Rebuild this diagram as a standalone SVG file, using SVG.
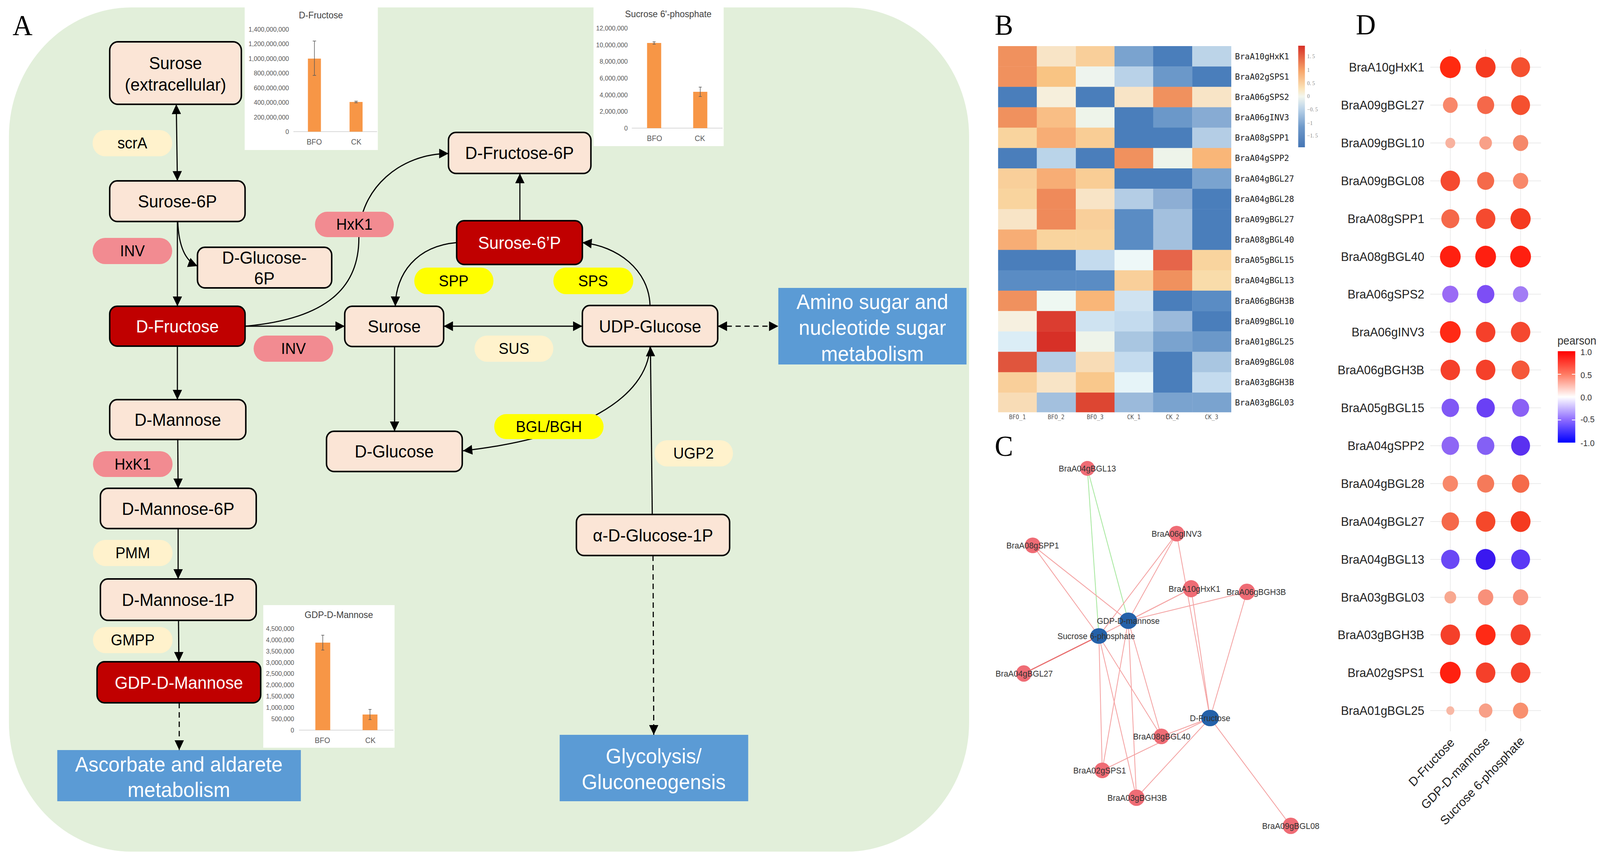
<svg xmlns="http://www.w3.org/2000/svg" width="4310" height="2204" viewBox="0 0 4310 2204">
<defs>
<marker id="arr" viewBox="0 0 10 10" refX="10" refY="5" markerUnits="userSpaceOnUse" markerWidth="27" markerHeight="25" orient="auto-start-reverse"><path d="M0,0 L10,5 L0,10 z" fill="#000"/></marker>
<linearGradient id="hmg" x1="0" y1="0" x2="0" y2="1">
<stop offset="0" stop-color="#d73027"/><stop offset="0.25" stop-color="#f7a66b"/><stop offset="0.42" stop-color="#fbe3b8"/><stop offset="0.5" stop-color="#f2f6ee"/><stop offset="0.62" stop-color="#bcd4e9"/><stop offset="0.8" stop-color="#6e99ca"/><stop offset="1" stop-color="#4575b4"/>
</linearGradient>
<linearGradient id="pg" x1="0" y1="0" x2="0" y2="1">
<stop offset="0" stop-color="#ff0000"/><stop offset="0.25" stop-color="#ff7a62"/><stop offset="0.5" stop-color="#ffffff"/><stop offset="0.75" stop-color="#8e6cff"/><stop offset="1" stop-color="#0000ff"/>
</linearGradient>
<style>
.txt{font-family:"Liberation Sans",Arial,sans-serif}
.node rect{fill:#fbe5d6;stroke:#000;stroke-width:4}
.node.red rect{fill:#c00000}
.nt{font-family:"Liberation Sans",Arial,sans-serif;font-size:45px;text-anchor:middle;fill:#000}
.red .nt{fill:#fff}
.blue rect{fill:#5b9bd5;stroke:none}
.bt{font-family:"Liberation Sans",Arial,sans-serif;font-size:54px;text-anchor:middle;fill:#fff}
.pill text{font-family:"Liberation Sans",Arial,sans-serif;font-size:40px;text-anchor:middle;fill:#000}
.pink rect{fill:#f28b91}
.lite rect{fill:#fff2cc}
.yel rect{fill:#ffff00}
.conn path,.conn line{fill:none;stroke:#000;stroke-width:3}
.dash{stroke-dasharray:14 10}
.lbl{font-family:"Liberation Serif","Times New Roman",serif;font-size:74px;fill:#000}
.ct{font-family:"Liberation Sans",Arial,sans-serif;font-size:24px;text-anchor:middle;fill:#404040}
.tk{font-family:"Liberation Sans",Arial,sans-serif;font-size:17px;text-anchor:end;fill:#595959}
.xl{font-family:"Liberation Sans",Arial,sans-serif;font-size:20px;text-anchor:middle;fill:#595959}
.bar{fill:#f79646}
.ax{stroke:#d9d9d9;stroke-width:2}
.eb{stroke:#595959;stroke-width:1.5;fill:none}
.hl{font-family:"DejaVu Sans Mono",monospace;font-size:22px;fill:#222}
.hc{font-family:"DejaVu Sans Mono",monospace;font-size:15px;fill:#555;text-anchor:middle}
.hk{font-family:"Liberation Serif","Times New Roman",serif;font-size:14px;fill:#888}
.ne{stroke:#f4a3a3;stroke-width:2.2}
.ng{stroke:#a8e8a0;stroke-width:2.2}
.rn{fill:#ef6c75}
.bn{fill:#2461a9}
.nl{font-family:"Liberation Sans",Arial,sans-serif;font-size:22px;fill:#333;text-anchor:middle}
.gl{stroke:#ebebeb;stroke-width:2}
.dl{font-family:"Liberation Sans",Arial,sans-serif;font-size:32px;fill:#222;text-anchor:end}
.pl{font-family:"Liberation Sans",Arial,sans-serif;font-size:22px;fill:#333}
</style>
</defs>
<rect width="4310" height="2204" fill="#fff"/>
<g id="figure" transform="scale(0.952,1)">
<rect x="24" y="19" width="2582" height="2161" rx="330" fill="#e2efda"/>
<text class="lbl" x="34" y="90">A</text>
<text class="lbl" x="2675" y="89">B</text>
<text class="lbl" x="2675" y="1167">C</text>
<text class="lbl" x="3646" y="88">D</text>

<!-- charts -->
<g id="chart-fructose">
<rect x="658" y="19" width="358" height="365" fill="#fff"/>
<text class="ct" x="863" y="47">D-Fructose</text>
<text class="tk" x="777" y="343">0</text>
<text class="tk" x="777" y="306">200,000,000</text>
<text class="tk" x="777" y="268">400,000,000</text>
<text class="tk" x="777" y="231">600,000,000</text>
<text class="tk" x="777" y="193">800,000,000</text>
<text class="tk" x="777" y="156">1,000,000,000</text>
<text class="tk" x="777" y="118">1,200,000,000</text>
<text class="tk" x="777" y="81">1,400,000,000</text>
<line class="ax" x1="789" y1="337" x2="1014" y2="337"/>
<rect class="bar" x="828" y="150" width="35" height="187"/>
<rect class="bar" x="940" y="261" width="35" height="76"/>
<path class="eb" d="M845.5,105 V193 M841,105 H850 M841,193 H850 M957.5,259 V263 M953,259 H962 M953,263 H962"/>
<text class="xl" x="845" y="370">BFO</text>
<text class="xl" x="958" y="370">CK</text>
</g>
<g id="chart-sucrose6p">
<rect x="1596" y="19" width="350" height="355" fill="#fff"/>
<text class="ct" x="1797" y="44">Sucrose 6'-phosphate</text>
<text class="tk" x="1688" y="334">0</text>
<text class="tk" x="1688" y="291">2,000,000</text>
<text class="tk" x="1688" y="249">4,000,000</text>
<text class="tk" x="1688" y="206">6,000,000</text>
<text class="tk" x="1688" y="163">8,000,000</text>
<text class="tk" x="1688" y="121">10,000,000</text>
<text class="tk" x="1688" y="78">12,000,000</text>
<line class="ax" x1="1699" y1="328" x2="1943" y2="328"/>
<rect class="bar" x="1740" y="110" width="38" height="218"/>
<rect class="bar" x="1864" y="235" width="38" height="93"/>
<path class="eb" d="M1759,107 V113 M1755,107 H1763 M1755,113 H1763 M1883,223 V247 M1879,223 H1887 M1879,247 H1887"/>
<text class="xl" x="1760" y="361">BFO</text>
<text class="xl" x="1882" y="361">CK</text>
</g>
<g id="chart-gdp">
<rect x="708" y="1549" width="353" height="365" fill="#fff"/>
<text class="ct" x="911" y="1582">GDP-D-Mannose</text>
<text class="tk" x="791" y="1875">0</text>
<text class="tk" x="791" y="1846">500,000</text>
<text class="tk" x="791" y="1817">1,000,000</text>
<text class="tk" x="791" y="1788">1,500,000</text>
<text class="tk" x="791" y="1759">2,000,000</text>
<text class="tk" x="791" y="1730">2,500,000</text>
<text class="tk" x="791" y="1702">3,000,000</text>
<text class="tk" x="791" y="1673">3,500,000</text>
<text class="tk" x="791" y="1644">4,000,000</text>
<text class="tk" x="791" y="1615">4,500,000</text>
<line class="ax" x1="804" y1="1869" x2="1058" y2="1869"/>
<rect class="bar" x="848" y="1645" width="40" height="224"/>
<rect class="bar" x="975" y="1829" width="40" height="40"/>
<path class="eb" d="M868,1626 V1664 M864,1626 H872 M864,1664 H872 M995,1816 V1842 M991,1816 H999 M991,1842 H999"/>
<text class="xl" x="867" y="1902">BFO</text>
<text class="xl" x="996" y="1902">CK</text>
</g>

<!-- connectors -->
<g id="connectors" class="conn">
<line x1="474" y1="267" x2="477" y2="463" marker-start="url(#arr)" marker-end="url(#arr)"/>
<path d="M478,567 Q482,662 531,681" marker-end="url(#arr)"/>
<line x1="477" y1="567" x2="477" y2="784" marker-end="url(#arr)"/>
<path d="M659,835 C900,815 965,720 965,610 C965,480 1080,393 1206,393" marker-end="url(#arr)"/>
<line x1="659" y1="835" x2="927" y2="835" marker-end="url(#arr)"/>
<line x1="477" y1="886" x2="477" y2="1023" marker-end="url(#arr)"/>
<line x1="478" y1="1125" x2="479" y2="1250" marker-end="url(#arr)"/>
<line x1="479" y1="1353" x2="479" y2="1482" marker-end="url(#arr)"/>
<line x1="480" y1="1588" x2="481" y2="1694" marker-end="url(#arr)"/>
<line class="dash" x1="482" y1="1799" x2="482" y2="1920" marker-end="url(#arr)"/>
<line x1="1398" y1="565" x2="1398" y2="444" marker-end="url(#arr)"/>
<path d="M1228,621 C1120,630 1064,700 1063,784" marker-end="url(#arr)"/>
<path d="M1748,782 C1745,690 1660,630 1566,621" marker-end="url(#arr)"/>
<line x1="1193" y1="835" x2="1566" y2="835" marker-start="url(#arr)" marker-end="url(#arr)"/>
<line class="dash" x1="1930" y1="835" x2="2093" y2="835" marker-start="url(#arr)" marker-end="url(#arr)"/>
<line x1="1061" y1="887" x2="1061" y2="1104" marker-end="url(#arr)"/>
<path d="M1748,887 C1740,1020 1560,1120 1245,1154" marker-end="url(#arr)"/>
<line x1="1754" y1="1317" x2="1749" y2="887" marker-end="url(#arr)"/>
<line class="dash" x1="1756" y1="1422" x2="1758" y2="1881" marker-end="url(#arr)"/>
</g>

<!-- pathway nodes -->
<g id="surose-extracellular" class="node"><rect x="295" y="107" width="354" height="160" rx="22"/><text class="nt" x="472" y="177">Surose</text><text class="nt" x="472" y="232">(extracellular)</text></g>
<g id="surose-6p" class="node"><rect x="295" y="463" width="364" height="104" rx="20"/><text class="nt" x="477" y="531">Surose-6P</text></g>
<g id="d-glucose-6p" class="node"><rect x="531" y="633" width="361" height="104" rx="20"/><text class="nt" x="711" y="675">D-Glucose-</text><text class="nt" x="711" y="728">6P</text></g>
<g id="d-fructose" class="node red"><rect x="295" y="784" width="364" height="102" rx="20"/><text class="nt" x="477" y="851">D-Fructose</text></g>
<g id="surose" class="node"><rect x="927" y="784" width="266" height="103" rx="20"/><text class="nt" x="1060" y="851">Surose</text></g>
<g id="d-fructose-6p" class="node"><rect x="1206" y="339" width="383" height="105" rx="20"/><text class="nt" x="1397" y="407">D-Fructose-6P</text></g>
<g id="surose-6pp" class="node red"><rect x="1228" y="565" width="338" height="112" rx="20"/><text class="nt" x="1397" y="637">Surose-6’P</text></g>
<g id="udp-glucose" class="node"><rect x="1566" y="782" width="364" height="105" rx="20"/><text class="nt" x="1748" y="851">UDP-Glucose</text></g>
<g id="d-glucose" class="node"><rect x="878" y="1104" width="365" height="103" rx="20"/><text class="nt" x="1060" y="1171">D-Glucose</text></g>
<g id="alpha-d-glucose-1p" class="node"><rect x="1550" y="1317" width="412" height="105" rx="20"/><text class="nt" x="1756" y="1386">α-D-Glucose-1P</text></g>
<g id="d-mannose" class="node"><rect x="295" y="1023" width="366" height="102" rx="20"/><text class="nt" x="478" y="1090">D-Mannose</text></g>
<g id="d-mannose-6p" class="node"><rect x="270" y="1250" width="419" height="103" rx="20"/><text class="nt" x="479" y="1318">D-Mannose-6P</text></g>
<g id="d-mannose-1p" class="node"><rect x="270" y="1482" width="419" height="106" rx="20"/><text class="nt" x="479" y="1551">D-Mannose-1P</text></g>
<g id="gdp-d-mannose" class="node red"><rect x="261" y="1694" width="440" height="105" rx="20"/><text class="nt" x="481" y="1763">GDP-D-Mannose</text></g>
<g id="amino-sugar" class="blue"><rect x="2093" y="737" width="506" height="196"/><text class="bt" x="2346" y="791">Amino sugar and</text><text class="bt" x="2346" y="857">nucleotide sugar</text><text class="bt" x="2346" y="924">metabolism</text></g>
<g id="ascorbate" class="blue"><rect x="154" y="1920" width="655" height="131"/><text class="bt" x="481" y="1975">Ascorbate and aldarete</text><text class="bt" x="481" y="2040">metabolism</text></g>
<g id="glycolysis" class="blue"><rect x="1505" y="1881" width="507" height="170"/><text class="bt" x="1758" y="1954">Glycolysis/</text><text class="bt" x="1758" y="2020">Gluconeogensis</text></g>

<!-- enzyme pills -->
<g id="e-scrA" class="pill lite"><rect x="249" y="333" width="214" height="67" rx="33.5"/><text x="356" y="380">scrA</text></g>
<g id="e-inv1" class="pill pink"><rect x="249" y="609" width="214" height="67" rx="33.5"/><text x="356" y="656">INV</text></g>
<g id="e-hxk1a" class="pill pink"><rect x="847" y="542" width="212" height="65" rx="32.5"/><text x="953" y="588">HxK1</text></g>
<g id="e-inv2" class="pill pink"><rect x="682" y="859" width="214" height="67" rx="33.5"/><text x="789" y="906">INV</text></g>
<g id="e-spp" class="pill yel"><rect x="1114" y="685" width="213" height="68" rx="34"/><text x="1220" y="733">SPP</text></g>
<g id="e-sps" class="pill yel"><rect x="1488" y="685" width="215" height="68" rx="34"/><text x="1595" y="733">SPS</text></g>
<g id="e-sus" class="pill lite"><rect x="1276" y="859" width="212" height="67" rx="33.5"/><text x="1382" y="906">SUS</text></g>
<g id="e-bgl" class="pill yel"><rect x="1329" y="1060" width="294" height="64" rx="32"/><text x="1476" y="1106">BGL/BGH</text></g>
<g id="e-ugp2" class="pill lite"><rect x="1760" y="1127" width="211" height="67" rx="33.5"/><text x="1865" y="1174">UGP2</text></g>
<g id="e-hxk1b" class="pill pink"><rect x="250" y="1155" width="214" height="66" rx="33"/><text x="357" y="1202">HxK1</text></g>
<g id="e-pmm" class="pill lite"><rect x="250" y="1382" width="214" height="67" rx="33.5"/><text x="357" y="1429">PMM</text></g>
<g id="e-gmpp" class="pill lite"><rect x="250" y="1605" width="214" height="67" rx="33.5"/><text x="357" y="1652">GMPP</text></g>

<!-- heatmap B -->
<g id="heatmap">
<g transform="translate(0,118)"><rect x="2684" width="105" height="52.6" fill="#f0915e"/><rect x="2788" width="105" height="52.6" fill="#f8e4c6"/><rect x="2893" width="105" height="52.6" fill="#f9cf9a"/><rect x="2997" width="105" height="52.6" fill="#7aa3cf"/><rect x="3101" width="105" height="52.6" fill="#4a7ebb"/><rect x="3206" width="105" height="52.6" fill="#bcd4e8"/></g>
<g transform="translate(0,170.2)"><rect x="2684" width="105" height="52.6" fill="#f0915e"/><rect x="2788" width="105" height="52.6" fill="#f9c483"/><rect x="2893" width="105" height="52.6" fill="#eef4ee"/><rect x="2997" width="105" height="52.6" fill="#b9d2e8"/><rect x="3101" width="105" height="52.6" fill="#6b98c9"/><rect x="3206" width="105" height="52.6" fill="#4a7ebb"/></g>
<g transform="translate(0,222.3)"><rect x="2684" width="105" height="52.6" fill="#4a7ebb"/><rect x="2788" width="105" height="52.6" fill="#f6efdc"/><rect x="2893" width="105" height="52.6" fill="#4a7ebb"/><rect x="2997" width="105" height="52.6" fill="#f8e4c6"/><rect x="3101" width="105" height="52.6" fill="#f0915e"/><rect x="3206" width="105" height="52.6" fill="#f8e4c6"/></g>
<g transform="translate(0,274.5)"><rect x="2684" width="105" height="52.6" fill="#f0915e"/><rect x="2788" width="105" height="52.6" fill="#f9be85"/><rect x="2893" width="105" height="52.6" fill="#eef4ea"/><rect x="2997" width="105" height="52.6" fill="#4a7ebb"/><rect x="3101" width="105" height="52.6" fill="#6b98c9"/><rect x="3206" width="105" height="52.6" fill="#87abd3"/></g>
<g transform="translate(0,326.7)"><rect x="2684" width="105" height="52.6" fill="#f9d49e"/><rect x="2788" width="105" height="52.6" fill="#f7ad75"/><rect x="2893" width="105" height="52.6" fill="#f9cd95"/><rect x="2997" width="105" height="52.6" fill="#4a7ebb"/><rect x="3101" width="105" height="52.6" fill="#4a7ebb"/><rect x="3206" width="105" height="52.6" fill="#b4cde5"/></g>
<g transform="translate(0,378.8)"><rect x="2684" width="105" height="52.6" fill="#4a7ebb"/><rect x="2788" width="105" height="52.6" fill="#bad4e9"/><rect x="2893" width="105" height="52.6" fill="#4a7ebb"/><rect x="2997" width="105" height="52.6" fill="#f0915e"/><rect x="3101" width="105" height="52.6" fill="#eef4ea"/><rect x="3206" width="105" height="52.6" fill="#f9b678"/></g>
<g transform="translate(0,431)"><rect x="2684" width="105" height="52.6" fill="#f9cf9a"/><rect x="2788" width="105" height="52.6" fill="#f7ad75"/><rect x="2893" width="105" height="52.6" fill="#f9cd95"/><rect x="2997" width="105" height="52.6" fill="#4a7ebb"/><rect x="3101" width="105" height="52.6" fill="#4a7ebb"/><rect x="3206" width="105" height="52.6" fill="#7aa3cf"/></g>
<g transform="translate(0,483.2)"><rect x="2684" width="105" height="52.6" fill="#f9d49e"/><rect x="2788" width="105" height="52.6" fill="#ef8a5a"/><rect x="2893" width="105" height="52.6" fill="#f8e4c6"/><rect x="2997" width="105" height="52.6" fill="#b4cde5"/><rect x="3101" width="105" height="52.6" fill="#8daed4"/><rect x="3206" width="105" height="52.6" fill="#4a7ebb"/></g>
<g transform="translate(0,535.4)"><rect x="2684" width="105" height="52.6" fill="#f8e4c6"/><rect x="2788" width="105" height="52.6" fill="#ef8a5a"/><rect x="2893" width="105" height="52.6" fill="#f9cf9a"/><rect x="2997" width="105" height="52.6" fill="#5a8cc4"/><rect x="3101" width="105" height="52.6" fill="#a3c0de"/><rect x="3206" width="105" height="52.6" fill="#4a7ebb"/></g>
<g transform="translate(0,587.5)"><rect x="2684" width="105" height="52.6" fill="#f7ad75"/><rect x="2788" width="105" height="52.6" fill="#f9d49e"/><rect x="2893" width="105" height="52.6" fill="#f9d49e"/><rect x="2997" width="105" height="52.6" fill="#5a8cc4"/><rect x="3101" width="105" height="52.6" fill="#a3c0de"/><rect x="3206" width="105" height="52.6" fill="#4a7ebb"/></g>
<g transform="translate(0,639.7)"><rect x="2684" width="105" height="52.6" fill="#4a7ebb"/><rect x="2788" width="105" height="52.6" fill="#4a7ebb"/><rect x="2893" width="105" height="52.6" fill="#c4dbee"/><rect x="2997" width="105" height="52.6" fill="#eef8f8"/><rect x="3101" width="105" height="52.6" fill="#e6654a"/><rect x="3206" width="105" height="52.6" fill="#f9d49e"/></g>
<g transform="translate(0,691.9)"><rect x="2684" width="105" height="52.6" fill="#5a8cc4"/><rect x="2788" width="105" height="52.6" fill="#5a8cc4"/><rect x="2893" width="105" height="52.6" fill="#5a8cc4"/><rect x="2997" width="105" height="52.6" fill="#f9cf9a"/><rect x="3101" width="105" height="52.6" fill="#f0915e"/><rect x="3206" width="105" height="52.6" fill="#f9dcaa"/></g>
<g transform="translate(0,744)"><rect x="2684" width="105" height="52.6" fill="#f0915e"/><rect x="2788" width="105" height="52.6" fill="#eef8f2"/><rect x="2893" width="105" height="52.6" fill="#f9b678"/><rect x="2997" width="105" height="52.6" fill="#d0e3f1"/><rect x="3101" width="105" height="52.6" fill="#4a7ebb"/><rect x="3206" width="105" height="52.6" fill="#5a8cc4"/></g>
<g transform="translate(0,796.2)"><rect x="2684" width="105" height="52.6" fill="#f6f0e0"/><rect x="2788" width="105" height="52.6" fill="#db3d30"/><rect x="2893" width="105" height="52.6" fill="#cfe3f1"/><rect x="2997" width="105" height="52.6" fill="#c4dbee"/><rect x="3101" width="105" height="52.6" fill="#9bbadb"/><rect x="3206" width="105" height="52.6" fill="#4a7ebb"/></g>
<g transform="translate(0,848.4)"><rect x="2684" width="105" height="52.6" fill="#dbedf6"/><rect x="2788" width="105" height="52.6" fill="#d73027"/><rect x="2893" width="105" height="52.6" fill="#eef4ea"/><rect x="2997" width="105" height="52.6" fill="#a9c6e1"/><rect x="3101" width="105" height="52.6" fill="#7aa3cf"/><rect x="3206" width="105" height="52.6" fill="#6b98c9"/></g>
<g transform="translate(0,900.5)"><rect x="2684" width="105" height="52.6" fill="#e0553d"/><rect x="2788" width="105" height="52.6" fill="#b4cde5"/><rect x="2893" width="105" height="52.6" fill="#f8dcb6"/><rect x="2997" width="105" height="52.6" fill="#c4dbee"/><rect x="3101" width="105" height="52.6" fill="#4a7ebb"/><rect x="3206" width="105" height="52.6" fill="#a9c6e1"/></g>
<g transform="translate(0,952.7)"><rect x="2684" width="105" height="52.6" fill="#f9cf9a"/><rect x="2788" width="105" height="52.6" fill="#f8e4c6"/><rect x="2893" width="105" height="52.6" fill="#f9c88c"/><rect x="2997" width="105" height="52.6" fill="#e6f4f8"/><rect x="3101" width="105" height="52.6" fill="#4a7ebb"/><rect x="3206" width="105" height="52.6" fill="#c4dbee"/></g>
<g transform="translate(0,1004.9)"><rect x="2684" width="105" height="50.5" fill="#f8dcb6"/><rect x="2788" width="105" height="50.5" fill="#a3c0de"/><rect x="2893" width="105" height="50.5" fill="#dd4632"/><rect x="2997" width="105" height="50.5" fill="#9bbadb"/><rect x="3101" width="105" height="50.5" fill="#7aa3cf"/><rect x="3206" width="105" height="50.5" fill="#7aa3cf"/></g>
<text class="hl" x="3321" y="152">BraA10gHxK1</text>
<text class="hl" x="3321" y="204">BraA02gSPS1</text>
<text class="hl" x="3321" y="256">BraA06gSPS2</text>
<text class="hl" x="3321" y="308">BraA06gINV3</text>
<text class="hl" x="3321" y="360">BraA08gSPP1</text>
<text class="hl" x="3321" y="412">BraA04gSPP2</text>
<text class="hl" x="3321" y="465">BraA04gBGL27</text>
<text class="hl" x="3321" y="517">BraA04gBGL28</text>
<text class="hl" x="3321" y="569">BraA09gBGL27</text>
<text class="hl" x="3321" y="621">BraA08gBGL40</text>
<text class="hl" x="3321" y="673">BraA05gBGL15</text>
<text class="hl" x="3321" y="725">BraA04gBGL13</text>
<text class="hl" x="3321" y="778">BraA06gBGH3B</text>
<text class="hl" x="3321" y="830">BraA09gBGL10</text>
<text class="hl" x="3321" y="882">BraA01gBGL25</text>
<text class="hl" x="3321" y="934">BraA09gBGL08</text>
<text class="hl" x="3321" y="986">BraA03gBGH3B</text>
<text class="hl" x="3321" y="1038">BraA03gBGL03</text>
<text class="hc" x="2736" y="1073">BFO_1</text>
<text class="hc" x="2840" y="1073">BFO_2</text>
<text class="hc" x="2945" y="1073">BFO_3</text>
<text class="hc" x="3049" y="1073">CK_1</text>
<text class="hc" x="3153" y="1073">CK_2</text>
<text class="hc" x="3258" y="1073">CK_3</text>
<rect x="3491" y="117" width="18" height="260" fill="url(#hmg)"/>
<text class="hk" x="3515" y="149">1. 5</text>
<text class="hk" x="3515" y="184">1</text>
<text class="hk" x="3515" y="218">0. 5</text>
<text class="hk" x="3515" y="251">0</text>
<text class="hk" x="3515" y="285">−0. 5</text>
<text class="hk" x="3515" y="320">−1</text>
<text class="hk" x="3515" y="352">−1. 5</text>
</g>

<!-- network C -->
<g id="network-edges">
<line class="ng" x1="2924" y1="1199" x2="2955" y2="1628"/>
<line class="ng" x1="2924" y1="1199" x2="3034" y2="1589"/>
<line class="ne" x1="2777" y1="1396" x2="2955" y2="1628"/>
<line class="ne" x1="2777" y1="1396" x2="3034" y2="1589"/>
<line class="ne" x1="3164" y1="1366" x2="2955" y2="1628"/>
<line class="ne" x1="3164" y1="1366" x2="3034" y2="1589"/>
<line class="ne" x1="3164" y1="1366" x2="3254" y2="1838"/>
<line class="ne" x1="3203" y1="1507" x2="3034" y2="1589"/>
<line class="ne" x1="3203" y1="1507" x2="2955" y2="1628"/>
<line class="ne" x1="3203" y1="1507" x2="3254" y2="1838"/>
<line class="ne" x1="3353" y1="1515" x2="3034" y2="1589"/>
<line class="ne" x1="3353" y1="1515" x2="3254" y2="1838"/>
<line x1="2955" y1="1628" x2="2753" y2="1724" stroke="#e86b6b" stroke-width="3"/>
<line class="ne" x1="2955" y1="1628" x2="2964" y2="1972"/>
<line class="ne" x1="3034" y1="1589" x2="2964" y2="1972"/>
<line class="ne" x1="2955" y1="1628" x2="3056" y2="2042"/>
<line class="ne" x1="3034" y1="1589" x2="3056" y2="2042"/>
<line class="ne" x1="2955" y1="1628" x2="3123" y2="1885"/>
<line class="ne" x1="3034" y1="1589" x2="3123" y2="1885"/>
<line class="ne" x1="3254" y1="1838" x2="3123" y2="1885"/>
<line class="ne" x1="3254" y1="1838" x2="2964" y2="1972"/>
<line class="ne" x1="3254" y1="1838" x2="3056" y2="2042"/>
<line class="ne" x1="3254" y1="1838" x2="3471" y2="2114"/>
</g>
<g id="n-bgl13"><ellipse class="rn" cx="2924" cy="1199" rx="20" ry="19"/><text class="nl" x="2924" y="1207">BraA04gBGL13</text></g>
<g id="n-spp1"><ellipse class="rn" cx="2777" cy="1396" rx="21" ry="20"/><text class="nl" x="2777" y="1404">BraA08gSPP1</text></g>
<g id="n-inv3"><ellipse class="rn" cx="3164" cy="1366" rx="21" ry="20"/><text class="nl" x="3164" y="1374">BraA06gINV3</text></g>
<g id="n-hxk1"><ellipse class="rn" cx="3203" cy="1507" rx="22" ry="22"/><text class="nl" x="3212" y="1515">BraA10gHxK1</text></g>
<g id="n-bgh3b06"><ellipse class="rn" cx="3353" cy="1515" rx="22" ry="21"/><text class="nl" x="3378" y="1523">BraA06gBGH3B</text></g>
<g id="n-gdp"><ellipse class="bn" cx="3034" cy="1589" rx="24" ry="21"/><text class="nl" x="3034" y="1597">GDP-D-mannose</text></g>
<g id="n-s6p"><ellipse class="bn" cx="2955" cy="1628" rx="23" ry="20"/><text class="nl" x="2948" y="1636">Sucrose 6-phosphate</text></g>
<g id="n-bgl27"><ellipse class="rn" cx="2753" cy="1724" rx="21" ry="21"/><text class="nl" x="2754" y="1732">BraA04gBGL27</text></g>
<g id="n-dfru"><ellipse class="bn" cx="3254" cy="1838" rx="24" ry="21"/><text class="nl" x="3254" y="1846">D-Fructose</text></g>
<g id="n-bgl40"><ellipse class="rn" cx="3123" cy="1885" rx="21" ry="20"/><text class="nl" x="3124" y="1893">BraA08gBGL40</text></g>
<g id="n-sps1"><ellipse class="rn" cx="2964" cy="1972" rx="21" ry="20"/><text class="nl" x="2957" y="1980">BraA02gSPS1</text></g>
<g id="n-bgh3b03"><ellipse class="rn" cx="3056" cy="2042" rx="22" ry="21"/><text class="nl" x="3058" y="2050">BraA03gBGH3B</text></g>
<g id="n-bgl08"><ellipse class="rn" cx="3471" cy="2114" rx="22" ry="21"/><text class="nl" x="3471" y="2122">BraA09gBGL08</text></g>

<!-- dot plot D -->
<g id="dotplot">
<line class="gl" x1="3900" y1="126" x2="3900" y2="1872"/>
<line class="gl" x1="3995" y1="126" x2="3995" y2="1872"/>
<line class="gl" x1="4089" y1="126" x2="4089" y2="1872"/>
<g class="gl">
<line x1="3846" y1="172" x2="4144" y2="172"/><line x1="3846" y1="269" x2="4144" y2="269"/><line x1="3846" y1="366" x2="4144" y2="366"/><line x1="3846" y1="463" x2="4144" y2="463"/><line x1="3846" y1="560" x2="4144" y2="560"/><line x1="3846" y1="657" x2="4144" y2="657"/><line x1="3846" y1="753" x2="4144" y2="753"/><line x1="3846" y1="850" x2="4144" y2="850"/><line x1="3846" y1="947" x2="4144" y2="947"/><line x1="3846" y1="1044" x2="4144" y2="1044"/><line x1="3846" y1="1141" x2="4144" y2="1141"/><line x1="3846" y1="1238" x2="4144" y2="1238"/><line x1="3846" y1="1335" x2="4144" y2="1335"/><line x1="3846" y1="1432" x2="4144" y2="1432"/><line x1="3846" y1="1529" x2="4144" y2="1529"/><line x1="3846" y1="1625" x2="4144" y2="1625"/><line x1="3846" y1="1722" x2="4144" y2="1722"/><line x1="3846" y1="1819" x2="4144" y2="1819"/>
</g>
<text class="dl" x="3830" y="183">BraA10gHxK1</text>
<text class="dl" x="3830" y="280">BraA09gBGL27</text>
<text class="dl" x="3830" y="377">BraA09gBGL10</text>
<text class="dl" x="3830" y="474">BraA09gBGL08</text>
<text class="dl" x="3830" y="571">BraA08gSPP1</text>
<text class="dl" x="3830" y="668">BraA08gBGL40</text>
<text class="dl" x="3830" y="764">BraA06gSPS2</text>
<text class="dl" x="3830" y="861">BraA06gINV3</text>
<text class="dl" x="3830" y="958">BraA06gBGH3B</text>
<text class="dl" x="3830" y="1055">BraA05gBGL15</text>
<text class="dl" x="3830" y="1152">BraA04gSPP2</text>
<text class="dl" x="3830" y="1249">BraA04gBGL28</text>
<text class="dl" x="3830" y="1346">BraA04gBGL27</text>
<text class="dl" x="3830" y="1443">BraA04gBGL13</text>
<text class="dl" x="3830" y="1540">BraA03gBGL03</text>
<text class="dl" x="3830" y="1636">BraA03gBGH3B</text>
<text class="dl" x="3830" y="1733">BraA02gSPS1</text>
<text class="dl" x="3830" y="1830">BraA01gBGL25</text>
<circle cx="3900" cy="172" r="27.9" fill="#ff2a10"/><circle cx="3995" cy="172" r="26.7" fill="#f53a20"/><circle cx="4089" cy="172" r="25.4" fill="#f5502f"/>
<circle cx="3900" cy="269" r="19.9" fill="#f8876a"/><circle cx="3995" cy="269" r="23" fill="#f5684a"/><circle cx="4089" cy="269" r="25.4" fill="#f5502f"/>
<circle cx="3900" cy="366" r="13.3" fill="#f8b29f"/><circle cx="3995" cy="366" r="17" fill="#f8a088"/><circle cx="4089" cy="366" r="20.6" fill="#f5886a"/>
<circle cx="3900" cy="463" r="26.2" fill="#f54a2f"/><circle cx="3995" cy="463" r="23" fill="#f56a4a"/><circle cx="4089" cy="463" r="20.6" fill="#f8886a"/>
<circle cx="3900" cy="560" r="24.2" fill="#f5684a"/><circle cx="3995" cy="560" r="26.2" fill="#f54a2f"/><circle cx="4089" cy="560" r="27.1" fill="#f53a20"/>
<circle cx="3900" cy="657" r="27.9" fill="#ff2010"/><circle cx="3995" cy="657" r="27.9" fill="#ff1f10"/><circle cx="4089" cy="657" r="27.9" fill="#ff1f10"/>
<circle cx="3900" cy="753" r="21.8" fill="#9a6af5"/><circle cx="3995" cy="753" r="23.5" fill="#7d4ef5"/><circle cx="4089" cy="753" r="20.6" fill="#a27cf5"/>
<circle cx="3900" cy="850" r="27.9" fill="#ff2a15"/><circle cx="3995" cy="850" r="26.2" fill="#f5402a"/><circle cx="4089" cy="850" r="26.2" fill="#f5482f"/>
<circle cx="3900" cy="947" r="26.2" fill="#f5402a"/><circle cx="3995" cy="947" r="26.2" fill="#f5402a"/><circle cx="4089" cy="947" r="24.2" fill="#f5583a"/>
<circle cx="3900" cy="1044" r="23.5" fill="#8058f5"/><circle cx="3995" cy="1044" r="24.7" fill="#6a40f5"/><circle cx="4089" cy="1044" r="23" fill="#8a60f5"/>
<circle cx="3900" cy="1141" r="23.5" fill="#8e66f5"/><circle cx="3995" cy="1141" r="23.5" fill="#8460f5"/><circle cx="4089" cy="1141" r="25.4" fill="#5a30f0"/>
<circle cx="3900" cy="1238" r="20.6" fill="#f8886a"/><circle cx="3995" cy="1238" r="23" fill="#f57a5a"/><circle cx="4089" cy="1238" r="23.5" fill="#f56a4a"/>
<circle cx="3900" cy="1335" r="23.5" fill="#f5684a"/><circle cx="3995" cy="1335" r="26.2" fill="#f5482a"/><circle cx="4089" cy="1335" r="26.7" fill="#f53a20"/>
<circle cx="3900" cy="1432" r="24.7" fill="#6a48f5"/><circle cx="3995" cy="1432" r="26.7" fill="#3a18f0"/><circle cx="4089" cy="1432" r="25.4" fill="#5a38f5"/>
<circle cx="3900" cy="1529" r="15.8" fill="#f8a890"/><circle cx="3995" cy="1529" r="20.6" fill="#f8907a"/><circle cx="4089" cy="1529" r="20.6" fill="#f8907a"/>
<circle cx="3900" cy="1625" r="26.2" fill="#f5402a"/><circle cx="3995" cy="1625" r="26.7" fill="#ff2a15"/><circle cx="4089" cy="1625" r="26.7" fill="#f5402a"/>
<circle cx="3900" cy="1722" r="27.9" fill="#ff2010"/><circle cx="3995" cy="1722" r="26.2" fill="#f5402a"/><circle cx="4089" cy="1722" r="26.2" fill="#f5402a"/>
<circle cx="3900" cy="1819" r="10.9" fill="#f8b8a5"/><circle cx="3995" cy="1819" r="18.2" fill="#f8a088"/><circle cx="4089" cy="1819" r="20.6" fill="#f8906f"/>
<text class="dl" transform="translate(3913,1903) rotate(-45)">D-Fructose</text>
<text class="dl" transform="translate(4008,1900) rotate(-45)">GDP-D-mannose</text>
<text class="dl" transform="translate(4101,1899) rotate(-45)">Sucrose 6-phosphate</text>
<text class="txt" x="4188" y="882" font-size="29" fill="#333">pearson</text>
<rect x="4189" y="899" width="47" height="234" fill="url(#pg)"/>
<path d="M4189,958 h9 M4227,958 h9 M4189,1075 h9 M4227,1075 h9" stroke="#fff" stroke-width="2"/>
<text class="pl" x="4250" y="909">1.0</text>
<text class="pl" x="4250" y="968">0.5</text>
<text class="pl" x="4250" y="1025">0.0</text>
<text class="pl" x="4250" y="1081">-0.5</text>
<text class="pl" x="4250" y="1142">-1.0</text>
</g>
</g>
</svg>
